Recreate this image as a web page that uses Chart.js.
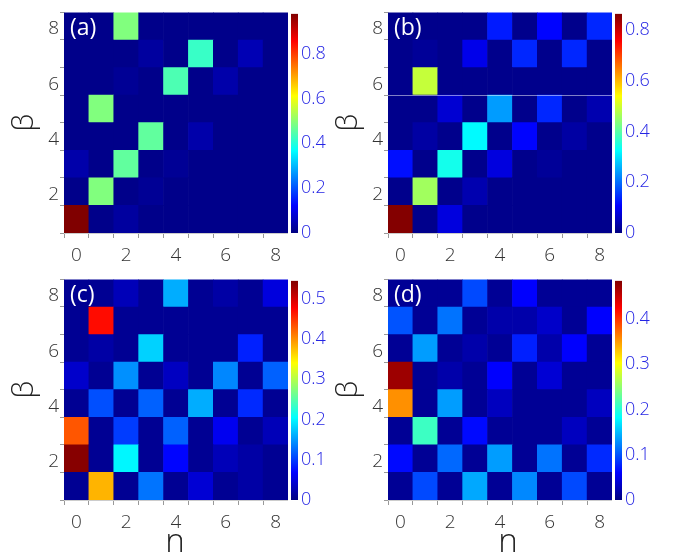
<!DOCTYPE html>
<html>
<head>
<meta charset="utf-8">
<script src="https://cdn.jsdelivr.net/npm/chart.js@4.4.0/dist/chart.umd.min.js"></script>
<style>
  body { margin: 0; background: #fff; width: 674px; height: 554px; position: relative; overflow: hidden; }
  canvas { position: absolute; }
</style>
</head>
<body>
<canvas id="ha" width="288" height="262" style="left:0;top:0"></canvas>
<canvas id="ca" width="50" height="262" style="left:288px;top:0"></canvas>
<canvas id="hb" width="288" height="262" style="left:324px;top:0"></canvas>
<canvas id="cb" width="60" height="262" style="left:612px;top:0"></canvas>
<canvas id="hc" width="288" height="287" style="left:0;top:267px"></canvas>
<canvas id="cc" width="50" height="287" style="left:288px;top:267px"></canvas>
<canvas id="hd" width="288" height="287" style="left:324px;top:267px"></canvas>
<canvas id="cd" width="60" height="287" style="left:612px;top:267px"></canvas>
<script>
// n along x, beta along y (rows listed from beta = 1 at the bottom up to beta = 8)
const nLabels = ['0', '1', '2', '3', '4', '5', '6', '7', '8'];
const betas = [1, 2, 3, 4, 5, 6, 7, 8];
const yEdges = [0.5, 1.5, 2.5, 3.5, 4.5, 5.5, 6.5, 7.5, 8.5];

const panelA = [
  [0.98, 0.01, 0.03, 0.01, 0.01, 0.01, 0.01, 0.01, 0.01],
  [0.01, 0.49, 0.01, 0.02, 0.01, 0.01, 0.01, 0.01, 0.01],
  [0.04, 0.01, 0.46, 0.01, 0.02, 0.01, 0.01, 0.01, 0.01],
  [0.01, 0.01, 0.01, 0.46, 0.01, 0.04, 0.01, 0.01, 0.01],
  [0.01, 0.49, 0.01, 0.01, 0.01, 0.01, 0.01, 0.01, 0.01],
  [0.01, 0.01, 0.02, 0.01, 0.44, 0.01, 0.04, 0.01, 0.01],
  [0.01, 0.01, 0.01, 0.03, 0.01, 0.42, 0.01, 0.05, 0.01],
  [0.01, 0.01, 0.49, 0.01, 0.01, 0.01, 0.01, 0.01, 0.01]
];
const panelB = [
  [0.86, 0.01, 0.08, 0.01, 0.01, 0.01, 0.01, 0.01, 0.01],
  [0.01, 0.46, 0.01, 0.04, 0.01, 0.01, 0.01, 0.01, 0.01],
  [0.12, 0.01, 0.34, 0.01, 0.08, 0.01, 0.02, 0.01, 0.01],
  [0.01, 0.03, 0.01, 0.32, 0.01, 0.11, 0.01, 0.03, 0.01],
  [0.01, 0.01, 0.07, 0.01, 0.24, 0.01, 0.14, 0.01, 0.04],
  [0.01, 0.49, 0.01, 0.01, 0.01, 0.01, 0.01, 0.01, 0.01],
  [0.01, 0.02, 0.01, 0.09, 0.01, 0.14, 0.01, 0.14, 0.01],
  [0.01, 0.01, 0.01, 0.01, 0.13, 0.01, 0.11, 0.01, 0.14]
];
const panelC = [
  [0.01, 0.38, 0.01, 0.13, 0.01, 0.045, 0.01, 0.02, 0.01],
  [0.54, 0.01, 0.20, 0.01, 0.07, 0.01, 0.03, 0.02, 0.01],
  [0.43, 0.01, 0.10, 0.01, 0.12, 0.01, 0.06, 0.01, 0.03],
  [0.01, 0.11, 0.01, 0.12, 0.01, 0.16, 0.01, 0.09, 0.01],
  [0.04, 0.01, 0.145, 0.01, 0.035, 0.01, 0.14, 0.01, 0.12],
  [0.01, 0.02, 0.01, 0.18, 0.01, 0.01, 0.01, 0.085, 0.01],
  [0.01, 0.47, 0.01, 0.01, 0.01, 0.01, 0.01, 0.01, 0.01],
  [0.01, 0.01, 0.03, 0.01, 0.16, 0.01, 0.02, 0.01, 0.05]
];
const panelD = [
  [0.01, 0.095, 0.01, 0.14, 0.01, 0.125, 0.01, 0.095, 0.01],
  [0.065, 0.01, 0.11, 0.01, 0.135, 0.01, 0.115, 0.01, 0.08],
  [0.01, 0.21, 0.01, 0.065, 0.01, 0.01, 0.01, 0.03, 0.01],
  [0.355, 0.01, 0.135, 0.01, 0.03, 0.01, 0.01, 0.01, 0.03],
  [0.47, 0.01, 0.02, 0.01, 0.06, 0.01, 0.04, 0.01, 0.01],
  [0.01, 0.135, 0.01, 0.02, 0.01, 0.075, 0.02, 0.06, 0.01],
  [0.10, 0.01, 0.115, 0.01, 0.02, 0.02, 0.035, 0.01, 0.06],
  [0.01, 0.01, 0.01, 0.095, 0.01, 0.06, 0.01, 0.01, 0.01]
];

// colour bar ranges and tick labels
const maxA = 0.978, maxB = 0.863, maxC = 0.544, maxD = 0.484;
const ticksA = [0, 0.2, 0.4, 0.6, 0.8];
const ticksB = [0, 0.2, 0.4, 0.6, 0.8];
const ticksC = [0, 0.1, 0.2, 0.3, 0.4, 0.5];
const ticksD = [0, 0.1, 0.2, 0.3, 0.4];

const jetStops = [
  [0, [0, 0, 128]], [0.125, [0, 0, 255]], [0.375, [0, 255, 255]],
  [0.625, [255, 255, 0]], [0.875, [255, 0, 0]], [1, [128, 0, 0]]
];

function jet(t) {
  t = Math.max(0, Math.min(1, t));
  for (let i = 1; i < jetStops.length; i++) {
    const [t1, c1] = jetStops[i];
    const [t0, c0] = jetStops[i - 1];
    if (t <= t1) {
      const f = (t - t0) / (t1 - t0);
      const c = c0.map((v, k) => Math.round(v + (c1[k] - v) * f));
      return `rgb(${c[0]},${c[1]},${c[2]})`;
    }
  }
  return 'rgb(128,0,0)';
}

const tickFont = { family: 'Open Sans', size: 19, weight: 300 };
const titleFont = { family: 'Open Sans', size: 29, weight: 300, lineHeight: 1 };

// panel letter, the faint seam line in (b), and the "n" axis title under the bottom row
const panelLabel = {
  id: 'panelLabel',
  afterDraw(chart, args, opts) {
    const { ctx, chartArea } = chart;
    ctx.save();
    if (opts.stripe) {
      const y = Math.round(chart.scales.y.getPixelForValue(opts.stripe)) + 0.5;
      ctx.strokeStyle = 'rgba(255,255,255,0.5)';
      ctx.lineWidth = 1;
      ctx.beginPath();
      ctx.moveTo(chartArea.left, y);
      ctx.lineTo(chartArea.right, y);
      ctx.stroke();
    }
    ctx.fillStyle = '#fff';
    ctx.font = '23px "Open Sans"';
    ctx.textBaseline = 'middle';
    ctx.textAlign = 'left';
    ctx.fillText(opts.text, chartArea.left + 6, chartArea.top + 16);
    if (opts.xTitle) {
      ctx.fillStyle = '#222';
      ctx.font = '300 33px "Open Sans"';
      ctx.textAlign = 'center';
      ctx.textBaseline = 'alphabetic';
      ctx.fillText(opts.xTitle, (chartArea.left + chartArea.right) / 2 + opts.xShift, chart.height - 2);
    }
    ctx.restore();
  }
};

function heatmap(id, rows, vmax, label, xTitle, xShift, xh, stripe) {
  const datasets = betas.map((b, i) => ({
    data: nLabels.map(() => [b - 0.5, b + 0.5]),
    backgroundColor: rows[i].map(v => jet(v / vmax)),
    borderWidth: 0,
    barPercentage: 1,
    categoryPercentage: 1,
    grouped: false
  }));
  new Chart(document.getElementById(id), {
    type: 'bar',
    data: { labels: nLabels, datasets },
    options: {
      responsive: false,
      animation: false,
      layout: { padding: { top: 10, right: 0, left: 0, bottom: 0 } },
      plugins: {
        legend: { display: false },
        tooltip: { enabled: false },
        panelLabel: { text: label, stripe, xTitle, xShift }
      },
      scales: {
        x: {
          grid: { offset: true, drawOnChartArea: false, tickLength: 5, color: '#999' },
          border: { color: '#ccc' },
          ticks: {
            color: '#333', font: tickFont, padding: 6, maxRotation: 0, autoSkip: false,
            callback: (v, i) => (i % 2 ? '' : nLabels[i])
          },
          afterFit: s => { s.height = xh; }
        },
        y: {
          min: 0.5,
          max: 8.5,
          afterBuildTicks: s => { s.ticks = yEdges.map(v => ({ value: v })); },
          grid: { drawOnChartArea: false, tickLength: 4, color: '#999' },
          border: { color: '#ccc' },
          ticks: {
            color: '#333', font: tickFont, padding: 1, labelOffset: -11,
            callback: v => ((v + 0.5) % 2 === 0 ? String(v + 0.5) : '')
          },
          title: { display: true, text: 'β', color: '#222', font: titleFont, padding: { top: 10, bottom: 0 } },
          afterFit: s => { s.width = 64; }
        }
      }
    },
    plugins: [panelLabel]
  });
}

function colorbar(id, vmax, ticks, bottom, axisW) {
  new Chart(document.getElementById(id), {
    type: 'bar',
    data: {
      labels: [''],
      datasets: [{
        data: [[0, vmax]],
        borderWidth: 0,
        barPercentage: 1,
        categoryPercentage: 1,
        backgroundColor: ctx => {
          const a = ctx.chart.chartArea;
          if (!a) return '#000080';
          const g = ctx.chart.ctx.createLinearGradient(0, a.bottom, 0, a.top);
          jetStops.forEach(([t, c]) => g.addColorStop(t, `rgb(${c[0]},${c[1]},${c[2]})`));
          return g;
        }
      }]
    },
    options: {
      responsive: false,
      animation: false,
      layout: { padding: { left: 3, top: 10, bottom, right: 0 } },
      plugins: { legend: { display: false }, tooltip: { enabled: false } },
      scales: {
        x: { display: false },
        y: {
          position: 'right',
          min: 0,
          max: vmax,
          afterBuildTicks: s => { s.ticks = ticks.map(v => ({ value: v })); },
          grid: { display: false, drawTicks: false },
          border: { display: false },
          ticks: { color: '#2424e4', font: { family: 'Open Sans', size: 18, weight: 300 }, padding: 3, callback: v => String(v) },
          afterFit: s => { s.width = axisW; }
        }
      }
    }
  });
}

heatmap('ha', panelA, maxA, '(a)', null, 0, 29, null);
heatmap('hb', panelB, maxB, '(b)', null, 0, 29, 5.5);
heatmap('hc', panelC, maxC, '(c)', 'n', -1, 54, null);
heatmap('hd', panelD, maxD, '(d)', 'n', 8, 54, null);
colorbar('ca', maxA, ticksA, 29, 40);
colorbar('cb', maxB, ticksB, 29, 50);
colorbar('cc', maxC, ticksC, 54, 40);
colorbar('cd', maxD, ticksD, 54, 50);
</script>
</body>
</html>
